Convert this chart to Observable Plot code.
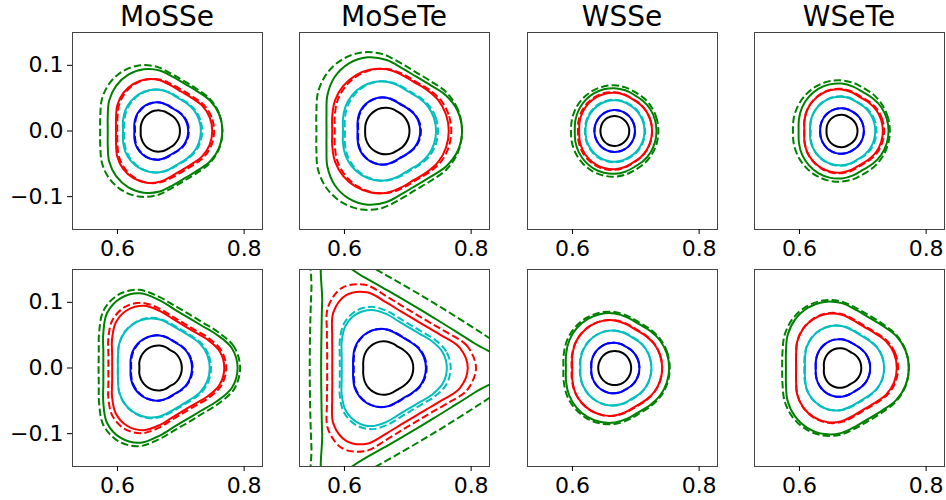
<!DOCTYPE html>
<html><head><meta charset="utf-8">
<script src="https://cdn.jsdelivr.net/npm/d3@7"></script>
<script src="https://cdn.jsdelivr.net/npm/@observablehq/plot@0.6"></script>
<style>
body{margin:0;background:#fff;}
#root{position:relative;width:946px;height:500px;overflow:hidden;font-family:"DejaVu Sans",sans-serif;background:#fff;}
.title{position:absolute;width:190px;text-align:center;font-size:28px;line-height:28px;color:#000;font-family:"DejaVu Sans",sans-serif;}
</style></head><body><div id="root"></div>
<script>
// Panel titles (top row)
const titles = ["MoSSe", "MoSeTe", "WSSe", "WSeTe"];
// Contour order: black, blue, blue--, cyan, cyan--, red, red--, green, green--
const lineColors = ["#000000", "#0000ff", "#0000ff", "#00bfbf", "#00bfbf", "#ff0000", "#ff0000", "#008000", "#008000"];
const lineDashed = [false, false, true, false, true, false, true, false, true];
// Each contour: [centre shift from K, radius at 0, 15, 30, 45, 60 deg]
// (0 deg = vertex toward +x, 60 deg = middle of a side; repeats every 120 deg, mirrored)
const topMoSSe = [
  [0, 0.032, 0.0319, 0.0314, 0.0308, 0.030],
  [0, 0.045, 0.0446, 0.0434, 0.0414, 0.040],
  [0.001, 0.045, 0.0446, 0.0434, 0.0414, 0.040],
  [0, 0.065, 0.0644, 0.0627, 0.0600, 0.058],
  [0.002, 0.065, 0.0644, 0.0627, 0.0600, 0.058],
  [0, 0.083, 0.0816, 0.0774, 0.0714, 0.069],
  [0.003, 0.083, 0.0817, 0.0778, 0.0722, 0.070],
  [0, 0.099, 0.0973, 0.0922, 0.0849, 0.082],
  [-0.006, 0.105, 0.1033, 0.0982, 0.0909, 0.088]
];
const topMoSeTe = [
  [0, 0.036, 0.0359, 0.0354, 0.0348, 0.034],
  [0, 0.053, 0.0524, 0.0506, 0.0477, 0.046],
  [0.001, 0.053, 0.0524, 0.0506, 0.0477, 0.046],
  [0, 0.078, 0.0772, 0.0750, 0.0715, 0.069],
  [0.003, 0.078, 0.0772, 0.0750, 0.0715, 0.069],
  [0, 0.098, 0.0970, 0.0940, 0.0890, 0.086],
  [0.004, 0.098, 0.0970, 0.0940, 0.0890, 0.086],
  [0, 0.119, 0.1162, 0.1082, 0.0984, 0.095],
  [-0.007, 0.126, 0.1238, 0.1172, 0.1077, 0.104]
];
const topWSSe = [
  [0, 0.023, 0.0230, 0.0228, 0.0226, 0.0225],
  [0, 0.032, 0.0320, 0.0320, 0.0320, 0.032],
  [0, 0.032, 0.0320, 0.0320, 0.0320, 0.032],
  [0, 0.047, 0.0469, 0.0467, 0.0464, 0.046],
  [0, 0.048, 0.0479, 0.0477, 0.0474, 0.047],
  [0, 0.059, 0.0588, 0.0582, 0.0572, 0.056],
  [-0.001, 0.060, 0.0598, 0.0592, 0.0582, 0.057],
  [0, 0.066, 0.0658, 0.0652, 0.0642, 0.063],
  [-0.001, 0.070, 0.0699, 0.0695, 0.0688, 0.068]
];
const topWSeTe = [
  [0, 0.025, 0.0249, 0.0247, 0.0244, 0.024],
  [0, 0.035, 0.0349, 0.0347, 0.0344, 0.034],
  [0, 0.035, 0.0349, 0.0347, 0.0344, 0.034],
  [0, 0.053, 0.0528, 0.0522, 0.0512, 0.050],
  [0.001, 0.054, 0.0537, 0.0529, 0.0516, 0.050],
  [0, 0.065, 0.0645, 0.0632, 0.0609, 0.059],
  [0.001, 0.066, 0.0655, 0.0642, 0.0619, 0.060],
  [0, 0.074, 0.0735, 0.0722, 0.0699, 0.068],
  [-0.002, 0.078, 0.0778, 0.0772, 0.0762, 0.075]
];
const botMoSSe = [
  [0, 0.035, 0.0348, 0.0342, 0.0333, 0.032],
  [0, 0.051, 0.0506, 0.0495, 0.0475, 0.046],
  [0.001, 0.051, 0.0506, 0.0495, 0.0475, 0.046],
  [0, 0.079, 0.0777, 0.0738, 0.0682, 0.066],
  [0.001, 0.080, 0.0787, 0.0748, 0.0692, 0.067],
  [0, 0.102, 0.0980, 0.0869, 0.0777, 0.075],
  [-0.002, 0.107, 0.1028, 0.0913, 0.0818, 0.079],
  [0, 0.123, 0.1178, 0.1029, 0.0921, 0.089],
  [-0.0015, 0.1285, 0.1234, 0.1087, 0.0980, 0.095]
];
const botMoSeTe = [
  [0, 0.042, 0.0416, 0.0403, 0.0383, 0.037],
  [0, 0.062, 0.0611, 0.0587, 0.0548, 0.053],
  [0.001, 0.062, 0.0611, 0.0587, 0.0548, 0.053],
  [0, 0.095, 0.0916, 0.0820, 0.0736, 0.071],
  [0.001, 0.100, 0.0965, 0.0865, 0.0778, 0.075],
  [0, 0.128, 0.1193, 0.0994, 0.0889, 0.086],
  [0, 0.141, 0.1311, 0.1090, 0.0973, 0.094],
  [0, 0.197, 0.1440, 0.1188, 0.1070, 0.1035],
  [0.001, 0.231, 0.1695, 0.1404, 0.1266, 0.1225]
];
const botWSSe = [
  [0, 0.026, 0.0260, 0.0260, 0.0260, 0.026],
  [0, 0.039, 0.0389, 0.0385, 0.0379, 0.037],
  [0, 0.039, 0.0389, 0.0385, 0.0379, 0.037],
  [0, 0.058, 0.0577, 0.0569, 0.0556, 0.054],
  [0, 0.058, 0.0578, 0.0572, 0.0562, 0.055],
  [0, 0.075, 0.0743, 0.0724, 0.0692, 0.067],
  [0, 0.075, 0.0744, 0.0727, 0.0700, 0.068],
  [0, 0.086, 0.0852, 0.0830, 0.0795, 0.077],
  [-0.001, 0.088, 0.0873, 0.0854, 0.0822, 0.080]
];
const botWSeTe = [
  [0, 0.031, 0.0308, 0.0301, 0.0291, 0.028],
  [0, 0.045, 0.0447, 0.0437, 0.0422, 0.041],
  [0, 0.045, 0.0447, 0.0437, 0.0422, 0.041],
  [0, 0.067, 0.0662, 0.0638, 0.0600, 0.058],
  [0, 0.067, 0.0663, 0.0641, 0.0608, 0.059],
  [0, 0.087, 0.0855, 0.0810, 0.0746, 0.072],
  [0.001, 0.088, 0.0865, 0.0820, 0.0756, 0.073],
  [0, 0.106, 0.1042, 0.0988, 0.0911, 0.088],
  [-0.002, 0.108, 0.1064, 0.1016, 0.0947, 0.092]
];
const K = 2 / 3;
const xDomain = [0.529, 0.829];
const yDomain = [-0.15, 0.15];
const xTicks = [0.6, 0.8];
const yTicks = [-0.1, 0.0, 0.1];

const panels = [
  [topMoSSe, topMoSeTe, topWSSe, topWSeTe],
  [botMoSSe, botMoSeTe, botWSSe, botWSeTe]
];
const frameLefts = [72, 299, 527, 754];
const frameTops = [32, 269];
const FW = 190, FH = 197;
const angleIdx = d3.range(24);

function contourPoints(row) {
  const dx = row[0];
  return angleIdx.map(i => {
    let phi = (i * 15) % 120;
    if (phi > 60) phi = 120 - phi;
    const r = row[1 + phi / 15];
    const a = i * Math.PI / 12;
    return {x: K + dx + r * Math.cos(a), y: r * Math.sin(a)};
  });
}

const root = document.getElementById("root");

function drawPanel(rows, col, rowIdx) {
  const ml = col === 0 ? 72 : 2, mr = 2, mt = 2, mb = 32;
  const marks = [];
  rows.forEach((row, i) => {
    marks.push(Plot.line(contourPoints(row), {
      x: "x", y: "y", curve: "catmull-rom-closed",
      stroke: lineColors[i], strokeWidth: 2,
      strokeDasharray: lineDashed[i] ? "7.4,3.2" : null,
      strokeLinecap: "butt",
      clip: true
    }));
  });
  marks.push(Plot.frame({stroke: "#444", strokeWidth: 1}));
  marks.push(Plot.axisX({ticks: xTicks, tickSize: 5, tickPadding: 6, tickFormat: d3.format(".1f"), label: null}));
  if (col === 0) marks.push(Plot.axisY({ticks: yTicks, tickSize: 5, tickPadding: 4, tickFormat: d3.format(".1f"), label: null}));
  const svg = Plot.plot({
    width: ml + FW + mr, height: mt + FH + mb,
    marginLeft: ml, marginRight: mr, marginTop: mt, marginBottom: mb,
    x: {domain: xDomain},
    y: col === 0 ? {domain: yDomain} : {domain: yDomain, axis: null},
    style: {fontSize: "22px", fontFamily: "DejaVu Sans", color: "#000", background: "transparent", overflow: "visible"},
    marks
  });
  svg.style.position = "absolute";
  svg.style.left = (frameLefts[col] - ml) + "px";
  svg.style.top = (frameTops[rowIdx] - mt) + "px";
  root.appendChild(svg);
}

panels.forEach((rowPanels, r) => rowPanels.forEach((rows, c) => drawPanel(rows, c, r)));

titles.forEach((t, c) => {
  const d = document.createElement("div");
  d.className = "title";
  d.textContent = t;
  d.style.left = frameLefts[c] + "px";
  d.style.top = "3px";
  root.appendChild(d);
});
</script>
</body></html>
